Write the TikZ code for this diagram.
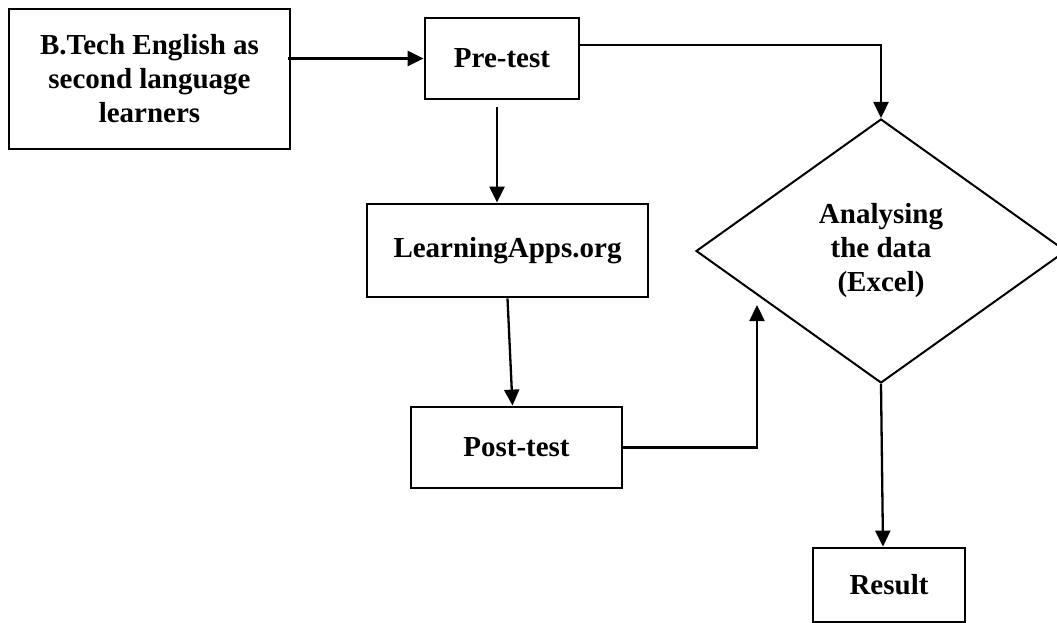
\documentclass[tikz,border=0pt]{standalone}
\usepackage{fontspec}
\setmainfont{Liberation Serif}
\usetikzlibrary{shapes,shapes.geometric,arrows.meta,calc}
\tikzset{
  flownode/.style = {align=center, inner sep=0pt, text centered, font=\fontsize{29}{34}\selectfont\bfseries},
  box_n/.style = {flownode, rectangle, draw=black, line width=2.8pt},
  dia_n/.style = {flownode, diamond, draw=black, line width=2pt, minimum width=370pt, minimum height=264pt},
  arr_n/.style = {line width=2.3pt, -{Triangle[length=16pt,width=15pt]}}
}

\begin{document}
\begin{tikzpicture}[x=1pt,y=-1pt]
	\useasboundingbox (0,0) rectangle (1057,623);
	\node [box_n, minimum width=281pt, minimum height=140pt] (btech) at (149.5,79) {B.Tech English as\\second language\\learners};
	\node [box_n, minimum width=154pt, minimum height=81pt] (pre) at (502,58.5) {Pre-test};
	\node [box_n, minimum width=281pt, minimum height=93pt] (apps) at (507.5,250.5) {LearningApps.org};
	\node [box_n, minimum width=211pt, minimum height=81pt] (post) at (516.5,447.5) {Post-test};
	\node [dia_n] (anal) at (881,251) {Analysing\\the data\\(Excel)};
	\node [box_n, minimum width=152pt, minimum height=74pt] (result) at (889,585) {Result};
	\coordinate (join) at (757,305);

	\draw [arr_n] ([xshift=-3pt]btech.east |- pre.west) -- (pre.west);
	\draw [arr_n] ([yshift=13.5pt]pre.east) -| (anal.north);
	\draw [arr_n, shorten <=7pt] ([xshift=-5pt]pre.south) -- ([xshift=-5pt]pre.south |- apps.north);
	\draw [arr_n] (apps.south) -- ([xshift=-4pt]post.north);
	\draw [arr_n] (post.east) -| (join);
	\draw [arr_n] (anal.south) -- ([xshift=-6pt]result.north);
\end{tikzpicture}
\end{document}
